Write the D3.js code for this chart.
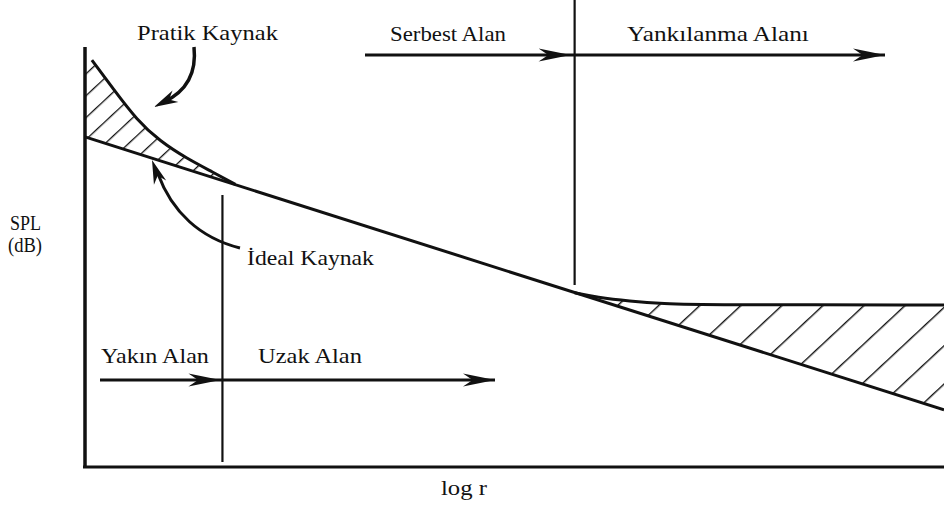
<!DOCTYPE html>
<html><head><meta charset="utf-8">
<script src="https://cdn.jsdelivr.net/npm/d3@7"></script>
<style>body{margin:0;background:#fff}svg{display:block}</style>
</head><body><svg id="c" width="944" height="506"></svg>
<script>
// ---- data (x: log r units 0..100, y: SPL units 0..100) ----
const idealLine = [[0, 78.6], [100, 13.6]];
const practicalCurve = [[0.8, 96.9], [3.3, 90.0], [6.05, 82.6], [8.7, 77.6], [11.9, 73.4], [14.9, 70.2], [17.5, 67.3]];
const reverbCurve = [[57.0, 41.5], [59.6, 40.4], [63.4, 39.5], [67.3, 38.9], [72, 38.6], [100, 38.6]];
const nearFarBoundary = 16.0;   // x
const freeReverbBoundary = 57.0; // x
const regionLabels = ["Yakın Alan", "Uzak Alan", "Serbest Alan", "Yankılanma Alanı"];
const sourceLabels = ["Pratik Kaynak", "İdeal Kaynak"];
const axisLabels = ["SPL", "(dB)", "log r"];

const svg = d3.select("#c");
const x = d3.scaleLinear().domain([0, 100]).range([85, 944]);
const y = d3.scaleLinear().domain([0, 100]).range([467, 47]);
const smooth = d3.line().x(d => x(d[0])).y(d => y(d[1])).curve(d3.curveBasis);
const straight = d3.line().x(d => x(d[0])).y(d => y(d[1]));
const idealAt = v => idealLine[0][1] + (idealLine[1][1] - idealLine[0][1]) * (v - idealLine[0][0]) / (idealLine[1][0] - idealLine[0][0]);

// hatch patterns
const defs = svg.append("defs");
function hatch(id, sp, sw) {
  const p = defs.append("pattern").attr("id", id).attr("patternUnits", "userSpaceOnUse")
    .attr("width", sp).attr("height", sp).attr("patternTransform", "rotate(47)");
  p.append("line").attr("x1", 0).attr("y1", 0).attr("x2", 0).attr("y2", sp).attr("stroke", "#111").attr("stroke-width", sw);
}
hatch("h1", 16, 2.6); hatch("h2", 28, 2.8);

// hatched areas
svg.append("path").attr("d", smooth(practicalCurve) + "L" + x(0) + "," + y(idealAt(0)) + "L" + x(0) + "," + y(practicalCurve[0][1]) + "Z").attr("fill", "url(#h1)");
svg.append("path").attr("d", smooth(reverbCurve) + "L" + x(100) + "," + y(idealAt(100)) + "L" + x(reverbCurve[0][0]) + "," + y(idealAt(reverbCurve[0][0])) + "Z").attr("fill", "url(#h2)");

// axes
svg.append("line").attr("x1", x(0)).attr("x2", x(0)).attr("y1", y(100)).attr("y2", y(0)).attr("stroke", "#111").attr("stroke-width", 3.5);
svg.append("line").attr("x1", x(0) - 2).attr("x2", x(100)).attr("y1", y(0)).attr("y2", y(0)).attr("stroke", "#111").attr("stroke-width", 3);

// ideal line
svg.append("path").attr("d", straight(idealLine)).attr("fill", "none").attr("stroke", "#111").attr("stroke-width", 3);
// practical & reverb curves
svg.append("path").attr("d", smooth(practicalCurve)).attr("fill", "none").attr("stroke", "#111").attr("stroke-width", 3);
svg.append("path").attr("d", smooth(reverbCurve)).attr("fill", "none").attr("stroke", "#111").attr("stroke-width", 3);

// boundaries
svg.append("line").attr("x1", x(nearFarBoundary)).attr("x2", x(nearFarBoundary)).attr("y1", 195).attr("y2", 462).attr("stroke", "#111").attr("stroke-width", 2.2);
svg.append("line").attr("x1", x(freeReverbBoundary)).attr("x2", x(freeReverbBoundary)).attr("y1", 0).attr("y2", 285).attr("stroke", "#111").attr("stroke-width", 2.2);

// arrow helper
function arrowHead(tx, ty, ang, len, w) {
  const c = Math.cos(ang), s = Math.sin(ang);
  const bx = tx - len * c, by = ty - len * s;
  const px = -s * w, py = c * w;
  svg.append("path").attr("d", `M${tx},${ty}L${bx + px},${by + py}L${bx + len*0.3*c},${by + len*0.3*s}L${bx - px},${by - py}Z`).attr("fill", "#111");
}
function hArrow(x1, x2, yy, mid) {
  svg.append("line").attr("x1", x1).attr("x2", x2).attr("y1", yy).attr("y2", yy).attr("stroke", "#111").attr("stroke-width", 3);
  arrowHead(x2, yy, 0, 32, 6.5);
  arrowHead(mid, yy, 0, 32, 6.5);
}
hArrow(365, 885, 55, x(freeReverbBoundary) - 4);
hArrow(100, 495, 380, x(nearFarBoundary) - 2);

// curved pointer arrows
svg.append("path").attr("d", "M194,47 C197,75 185,92 164,102").attr("fill", "none").attr("stroke", "#111").attr("stroke-width", 3.5);
arrowHead(154, 107, Math.atan2(7, -14), 24, 6.5);
svg.append("path").attr("d", "M240,248 C200,238 172,212 158,174").attr("fill", "none").attr("stroke", "#111").attr("stroke-width", 3);
arrowHead(152, 160, Math.atan2(-14, -5), 24, 6.5);

// texts: serif, lightly stretched to the reference's widths
function txt(t, xx, yy, w) {
  const el = svg.append("text").attr("x", 0).attr("y", 0).attr("fill", "#111")
    .style("font-family", "Liberation Serif").style("font-size", "22px").text(t);
  const len = el.node().getComputedTextLength() || w;
  el.attr("transform", `translate(${xx},${yy}) scale(${w / len},1)`);
}
txt(sourceLabels[0], 137, 40, 141);
txt(sourceLabels[1], 247, 265, 127);
txt(regionLabels[0], 101, 363, 108);
txt(regionLabels[1], 258, 363, 104);
txt(regionLabels[2], 390, 41, 116);
txt(regionLabels[3], 627, 41, 182);
txt(axisLabels[0], 10, 230, 31);
txt(axisLabels[1], 8, 252, 34);
txt(axisLabels[2], 441, 495, 46);
</script></body></html>
